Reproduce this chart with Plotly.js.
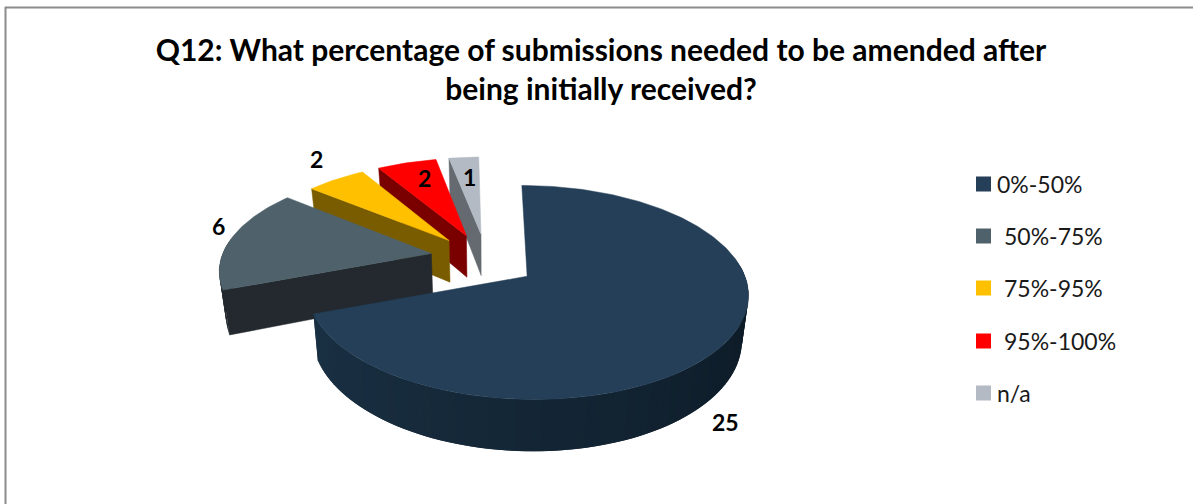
<!DOCTYPE html>
<html>
<head>
<meta charset="utf-8">
<script src="https://cdn.plot.ly/plotly-3.0.1.min.js"></script>
<style>html,body{margin:0;padding:0;background:#fff}</style>
</head>
<body>
<div id="chart" style="width:1193px;height:504px"></div>
<script>
// Survey answers
const categories = ['0%-50%', '50%-75%', '75%-95%', '95%-100%', 'n/a'];
const answerCounts = [25, 6, 2, 2, 1];

// Slice colours: top face, side wall
const faceColors = ['#243f57', '#4f626b', '#ffc000', '#ff0000', '#b3bac4'];
const wallColors = ['#13242f', '#23292e', '#7a5c00', '#7a0000', '#646a70'];

// Per-slice explosion: pull distance, direction tweak, radius scale, small rotation
const explodeBy = [0.237, 0.275, 0.28, 0.28, 0.28];
const pullTurn = [4, 7, 0, 0, 0];
const radiusScale = [1, 0.99, 0.95, 0.95, 0.95];
const spinBy = [0, -1, -1, -1, -1];

// Perspective view of the exploded pie
const view = {cx: 487, cy: 261, rx: 213, ry: 100, k: 0.148, depth: 43, shrink: 0.975, startDeg: 0};

function project(u, v, lower) {
  const s = 1 / (1 - view.k * v);
  const q = lower ? view.shrink : 1;
  return [view.cx + view.rx * u * s * q, view.cy + view.ry * v * s + (lower ? view.depth * s : 0)];
}
function rimPoint(deg, pull, i, lower) {
  const a = deg * Math.PI / 180, m = pull * Math.PI / 180, r = radiusScale[i], ex = explodeBy[i];
  return project(r * Math.sin(a) + ex * Math.sin(m), -r * Math.cos(a) - ex * Math.cos(m), lower);
}
function tipPoint(pull, i, lower) {
  const m = pull * Math.PI / 180, ex = explodeBy[i];
  return project(ex * Math.sin(m), -ex * Math.cos(m), lower);
}
function polygon(points, color, edge) {
  const closed = points.concat([points[0]]);
  return {
    x: closed.map(p => p[0]), y: closed.map(p => p[1]),
    type: 'scatter', mode: 'lines', fill: 'toself', fillcolor: color,
    line: {color: color, width: edge}, hoverinfo: 'skip', showlegend: false
  };
}
function mix(a, b, t) {
  const ch = (h, i) => parseInt(h.substr(1 + 2 * i, 2), 16);
  return 'rgb(' + [0, 1, 2].map(i => Math.round(ch(a, i) + (ch(b, i) - ch(a, i)) * t)).join(',') + ')';
}

const total = answerCounts.reduce((a, b) => a + b, 0);
const sliceAngles = [];
let running = view.startDeg;
answerCounts.forEach((n, i) => {
  const next = running + n / total * 360;
  sliceAngles.push([running + spinBy[i], next + spinBy[i]]);
  running = next;
});

const traces = [];
// Painted back to front: n/a first, the largest slice last
[4, 3, 2, 1, 0].forEach(i => {
  const [a0, a1] = sliceAngles[i];
  const pull = (a0 + a1) / 2 + pullTurn[i];
  const steps = Math.max(4, Math.round((a1 - a0) / 2));
  const angleAt = j => a0 + (a1 - a0) * j / steps;

  if (a0 > 180) {
    traces.push(polygon([tipPoint(pull, i, false), rimPoint(a0, pull, i, false), rimPoint(a0, pull, i, true), tipPoint(pull, i, true)], wallColors[i], 0.5));
  }
  // Curved side, painted in overlapping strips so no seams show
  for (let j = 0; j < steps; j++) {
    const d0 = angleAt(steps - 1 - j), d1 = Math.min(a1, d0 + 2 * (a1 - a0) / steps);
    if (Math.cos(d0 * Math.PI / 180) > 0.1 && Math.cos(d1 * Math.PI / 180) > 0.1) continue;
    let color = wallColors[i];
    if (i === 0) {
      // Side of the big slice darkens from the left end towards the right
      const t = (a1 - d0) / (a1 - a0);
      color = t < 0.5 ? mix('#1a3144', '#0f1e2b', t / 0.5) : mix('#0f1e2b', '#0b161f', (t - 0.5) / 0.5);
    }
    traces.push(polygon([rimPoint(d0, pull, i, false), rimPoint(d1, pull, i, false), rimPoint(d1, pull, i, true), rimPoint(d0, pull, i, true)], color, 0));
  }
  const face = [tipPoint(pull, i, false)];
  for (let j = 0; j <= steps * 2; j++) face.push(rimPoint(a0 + (a1 - a0) * j / (steps * 2), pull, i, false));
  traces.push(polygon(face, faceColors[i], 0.5));
});

// Legend keys
const legendX = 983.5, legendY = [184, 236, 288, 341, 393];
traces.push({
  x: categories.map(() => legendX), y: legendY, type: 'scatter', mode: 'markers',
  marker: {symbol: 'square', size: 15, color: faceColors}, hoverinfo: 'skip', showlegend: false
});
const legendTextX = [995, 1002, 1002, 1002, 995];
const legendNotes = categories.map((c, i) => ({
  x: legendTextX[i], y: legendY[i], text: c, showarrow: false, xanchor: 'left', yanchor: 'middle',
  font: {family: 'Lato', size: 23, color: '#1a1a1a'}
}));

// Value labels
const labelSpots = [[725, 422], [218, 226], [316, 159], [424, 178], [469, 177]];
const valueNotes = answerCounts.map((n, i) => ({
  x: labelSpots[i][0], y: labelSpots[i][1], text: '<b>' + n + '</b>', showarrow: false,
  font: {family: 'Lato', size: 23, color: '#000'}
}));

const hidden = {visible: false, fixedrange: true};
Plotly.newPlot('chart', traces, {
  width: 1193, height: 504,
  margin: {l: 0, r: 0, t: 0, b: 0},
  paper_bgcolor: '#fff', plot_bgcolor: '#fff',
  title: {
    text: 'Q12: What percentage of submissions needed to be amended after<br>being initially received?',
    x: 601 / 1193, xanchor: 'center', y: 1 - 61 / 504, yanchor: 'middle',
    font: {family: 'Lato', size: 30, color: '#000', weight: 700}
  },
  xaxis: Object.assign({range: [0, 1193]}, hidden),
  yaxis: Object.assign({range: [504, 0]}, hidden),
  showlegend: false,
  annotations: legendNotes.concat(valueNotes),
  shapes: [
    {type: 'line', x0: 5.5, x1: 5.5, y0: 7, y1: 504, line: {color: '#8c8c8c', width: 2}},
    {type: 'line', x0: 5, x1: 1193, y0: 7.5, y1: 7.5, line: {color: '#8c8c8c', width: 2}}
  ]
}, {staticPlot: true, displayModeBar: false});
</script>
</body>
</html>
